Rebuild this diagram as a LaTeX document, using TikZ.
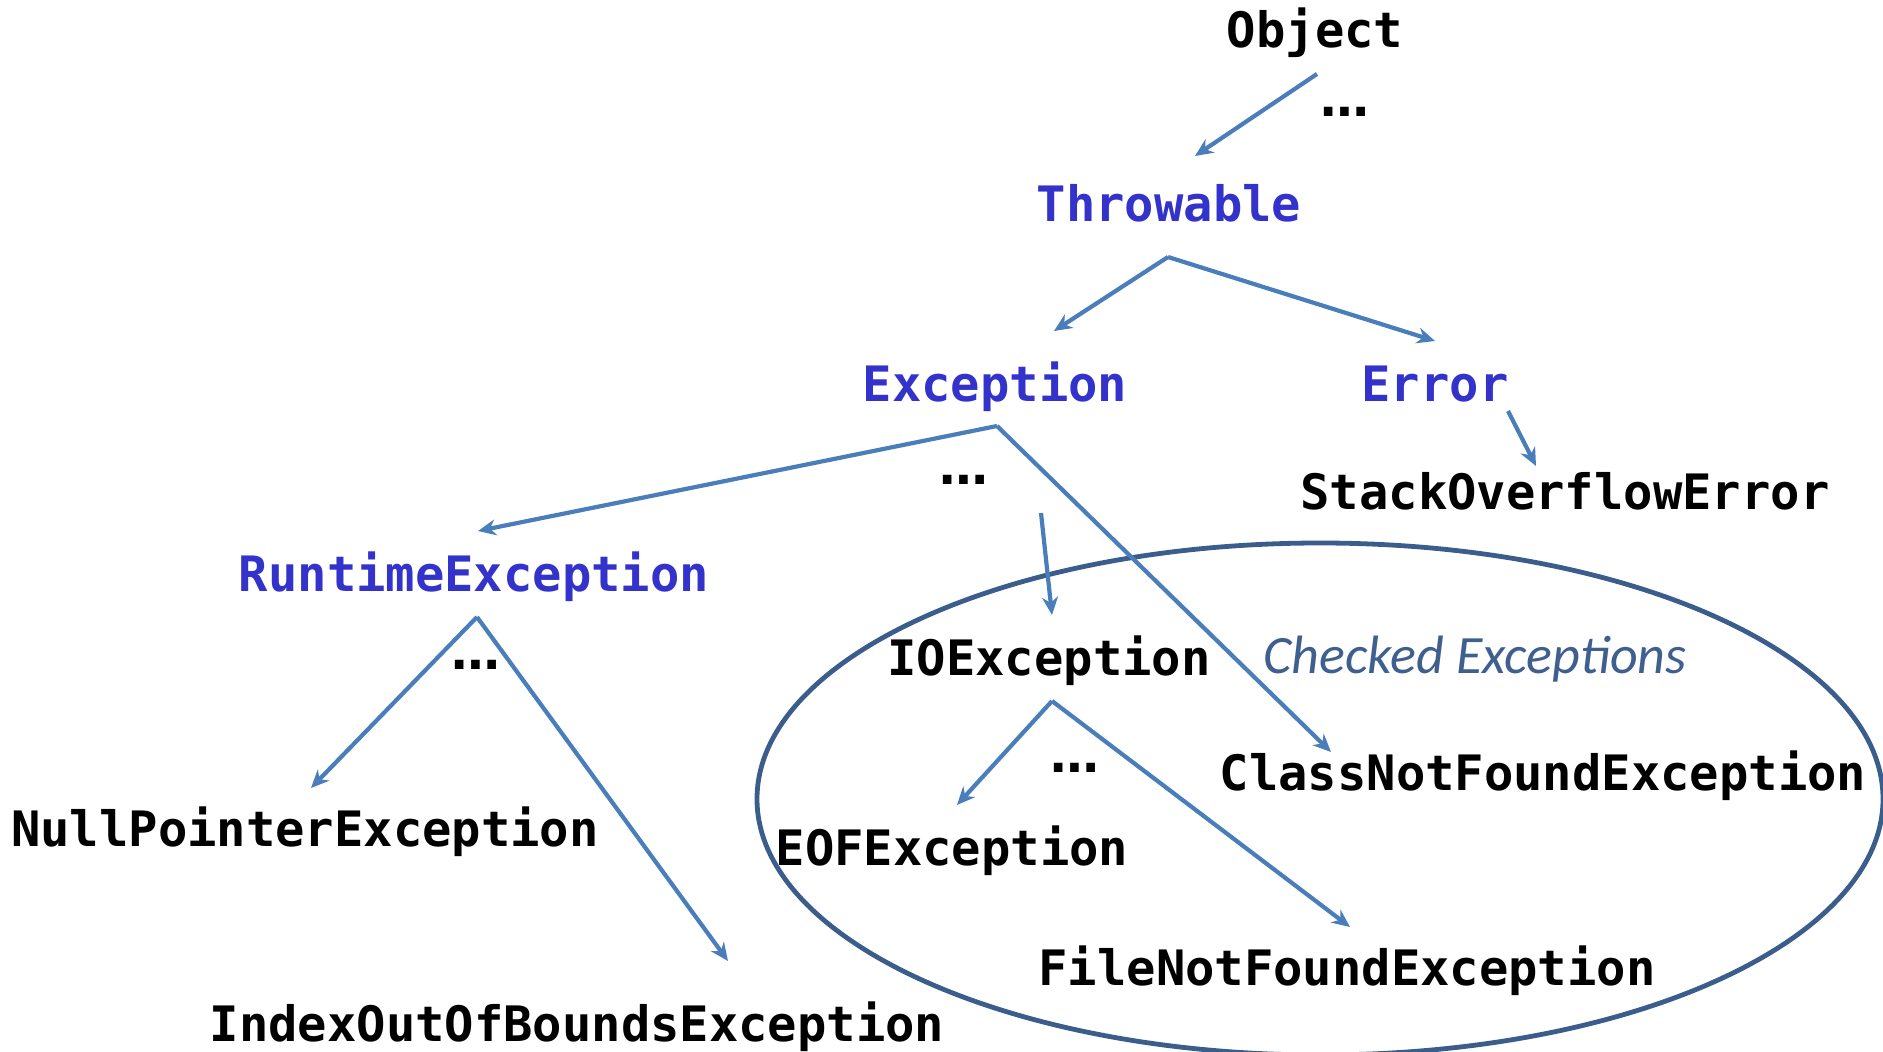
\documentclass[tikz,border=0pt]{standalone}
\usepackage{fontspec}
\setmonofont{DejaVu Sans Mono}
\newfontfamily\dotsfont{DejaVu Sans}
\newfontfamily\notefont{Carlito}
\usetikzlibrary{arrows.meta}
\definecolor{clsblue}{HTML}{3333CC}
\definecolor{linkblue}{HTML}{4A7EBB}
\definecolor{ringblue}{HTML}{3A5D8C}
\definecolor{noteblue}{HTML}{3F5F8F}
\tikzset{
  cls/.style={anchor=base, inner sep=0pt, font=\fontsize{24.4}{28}\selectfont\ttfamily\bfseries},
  base/.style={cls, clsblue},
  more/.style={inner sep=0pt, font=\fontsize{24.4}{28}\selectfont\dotsfont\bfseries},
  link/.style={draw=linkblue, line width=2.1pt, -{Stealth[length=9pt,width=8pt]}}
}
\begin{document}
\begin{tikzpicture}[x=0.5pt, y=-0.5pt]
    \useasboundingbox (0,0) rectangle (1883,1052);
    % class names
    \node[cls] (object) at (1315,47.5) {Object};
    \node[base] (throwable) at (1169,221.5) {Throwable};
    \node[base] (exception) at (995,401.5) {Exception};
    \node[base] (error) at (1435,401.5) {Error};
    \node[cls] (stackoverflow) at (1565,509.5) {StackOverflowError};
    \node[base] (runtime) at (474,591.5) {RuntimeException};
    \node[cls] (nullpointer) at (305,846.5) {NullPointerException};
    \node[cls] (indexoutofbounds) at (577,1041.5) {IndexOutOfBoundsException};
    \node[cls] (ioexception) at (1049,675.5) {IOException};
    \node[cls] (eof) at (952,865.5) {EOFException};
    \node[cls] (filenotfound) at (1347,985.5) {FileNotFoundException};
    \node[cls] (classnotfound) at (1543,790.5) {ClassNotFoundException};
    \node[more] (dotsobject) at (1345,112) {…};
    \node[more] (dotsexception) at (964,480) {…};
    \node[more] (dotsruntime) at (476,665) {…};
    \node[more] (dotsio) at (1075,768) {…};
    % checked exceptions
    \draw[ringblue, line width=2.4pt] (1320,799) ellipse [x radius=563, y radius=256];
    \node[anchor=base, inner sep=0pt, noteblue, font=\fontsize{27}{31}\selectfont\notefont\itshape] (checked) at (1475,674) {Checked Exceptions};
    % connector ends
    \coordinate (object-out) at (1317,74);
    \coordinate (throwable-in) at (1195,156);
    \coordinate (throwable-out) at (1168,257);
    \coordinate (exception-in) at (1054,331);
    \coordinate (error-in) at (1435,341);
    \coordinate (error-out) at (1508,411);
    \coordinate (stackoverflow-in) at (1536,466);
    \coordinate (exception-out) at (997,426);
    \coordinate (runtime-in) at (478,531);
    \coordinate (classnotfound-in) at (1331,752);
    \coordinate (io-out) at (1041,513);
    \coordinate (ioexception-in) at (1052,615);
    \coordinate (runtime-out) at (477,617);
    \coordinate (nullpointer-in) at (311,788);
    \coordinate (indexoutofbounds-in) at (728,961);
    \coordinate (ioexception-out) at (1052,701);
    \coordinate (eof-in) at (957,805);
    \coordinate (filenotfound-in) at (1350,927);
    % arrows
    \draw[link] (object-out) -- (throwable-in);
    \draw[link] (throwable-out) -- (exception-in);
    \draw[link] (throwable-out) -- (error-in);
    \draw[link] (error-out) -- (stackoverflow-in);
    \draw[link] (exception-out) -- (runtime-in);
    \draw[link] (exception-out) -- (classnotfound-in);
    \draw[link] (io-out) -- (ioexception-in);
    \draw[link] (runtime-out) -- (nullpointer-in);
    \draw[link] (runtime-out) -- (indexoutofbounds-in);
    \draw[link] (ioexception-out) -- (eof-in);
    \draw[link] (ioexception-out) -- (filenotfound-in);
\end{tikzpicture}
\end{document}
